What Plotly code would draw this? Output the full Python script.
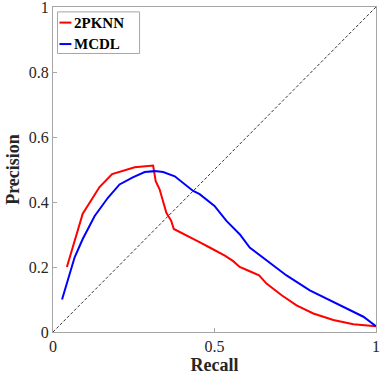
import plotly.graph_objects as go

# 2PKNN precision-recall curve
pknn_recall = [0.043, 0.092, 0.144, 0.183, 0.253, 0.310, 0.318, 0.330, 0.351, 0.366, 0.374,
               0.428, 0.455, 0.485, 0.532, 0.558, 0.578, 0.609, 0.638, 0.661, 0.708, 0.754,
               0.806, 0.868, 0.930, 1.000]
pknn_precision = [0.200, 0.364, 0.446, 0.486, 0.507, 0.512, 0.464, 0.439, 0.367, 0.342, 0.317,
                  0.291, 0.276, 0.260, 0.235, 0.218, 0.200, 0.187, 0.174, 0.149, 0.113, 0.082,
                  0.057, 0.037, 0.024, 0.018]

# MCDL precision-recall curve
mcdl_recall = [0.028, 0.067, 0.092, 0.129, 0.170, 0.206, 0.247, 0.284, 0.315, 0.341, 0.377,
               0.434, 0.454, 0.500, 0.537, 0.558, 0.578, 0.609, 0.661, 0.723, 0.795, 0.888,
               0.961, 1.000]
mcdl_precision = [0.100, 0.230, 0.286, 0.357, 0.413, 0.454, 0.476, 0.492, 0.495, 0.492, 0.479,
                  0.434, 0.424, 0.388, 0.342, 0.322, 0.301, 0.260, 0.220, 0.174, 0.128, 0.082,
                  0.047, 0.018]

diag = [0, 1]
series_names = ["2PKNN", "MCDL"]
series_colors = ["#ff0000", "#0000ff"]
x_ticks = [0, 0.5, 1]
x_tick_labels = ["0", "0.5", "1"]
y_ticks = [0, 0.2, 0.4, 0.6, 0.8, 1]
y_tick_labels = ["0", "0.2", "0.4", "0.6", "0.8", "1"]

FONT = "Liberation Serif"
TXT = "#262626"

fig = go.Figure()
fig.add_trace(go.Scatter(x=diag, y=diag, mode="lines",
                         line=dict(color="#333333", width=1, dash="3px,2px"),
                         showlegend=False, hoverinfo="skip"))
fig.add_trace(go.Scatter(x=pknn_recall, y=pknn_precision, mode="lines", name=series_names[0],
                         line=dict(color=series_colors[0], width=2), showlegend=False))
fig.add_trace(go.Scatter(x=mcdl_recall, y=mcdl_precision, mode="lines", name=series_names[1],
                         line=dict(color=series_colors[1], width=2), showlegend=False))

axis_common = dict(
    showgrid=False, zeroline=False, showline=True, linecolor="#a6a6a6", linewidth=1,
    mirror=True, ticks="inside", ticklen=4, tickcolor="#a6a6a6",
    tickfont=dict(family=FONT, size=16, color=TXT), automargin=False,
    ticklabeloverflow="allow", tickprefix="<b>", ticksuffix="</b>",
)
fig.update_xaxes(range=[0, 1], tickvals=x_ticks, ticktext=x_tick_labels,
                 title=dict(text="<b>Recall</b>", font=dict(family=FONT, size=18, color=TXT),
                            standoff=2),
                 **axis_common)
fig.update_yaxes(range=[0, 1], tickvals=y_ticks, ticktext=y_tick_labels,
                 title=dict(text="<b>Precision</b>", font=dict(family=FONT, size=18, color=TXT),
                            standoff=4),
                 **axis_common)

# Manual legend (short line samples as in the reference)
fig.add_shape(type="rect", xref="paper", yref="paper", x0=0.014, x1=0.268, y0=0.857, y1=0.985,
              line=dict(color="#a6a6a6", width=1), fillcolor="white", layer="above")
for i, (nm, col) in enumerate(zip(series_names, series_colors)):
    yy = 0.952 - i * 0.066
    fig.add_shape(type="line", xref="paper", yref="paper", x0=0.02, x1=0.057, y0=yy, y1=yy,
                  line=dict(color=col, width=2), layer="above")
    fig.add_annotation(xref="paper", yref="paper", x=0.058, y=yy, xanchor="left", yanchor="middle",
                       text="<b>%s</b>" % nm, showarrow=False,
                       font=dict(family=FONT, size=15, color="black"))

fig.update_layout(
    width=382, height=376,
    margin=dict(l=53, r=6, t=7, b=44),
    paper_bgcolor="white", plot_bgcolor="white",
    font=dict(family=FONT),
)

fig.write_html("out.html", config={"displayModeBar": False},
               post_script="document.body.style.margin='0';document.body.style.overflow='hidden';")
